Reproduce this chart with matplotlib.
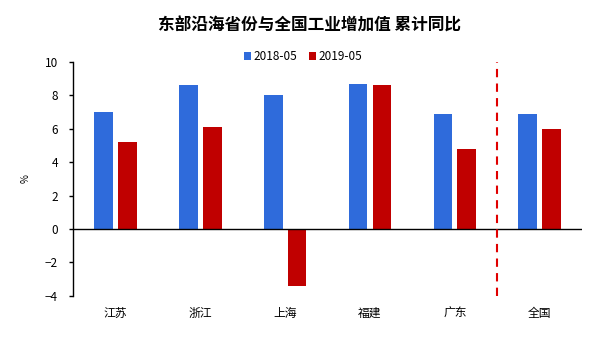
import matplotlib
matplotlib.use("Agg")
import matplotlib.pyplot as plt
import numpy as np

plt.rcParams['font.family'] = ['Noto Sans CJK SC', 'DejaVu Sans']

categories = ['江苏', '浙江', '上海', '福建', '广东', '全国']
series_2018 = [7.0, 8.6, 8.0, 8.7, 6.9, 6.9]
series_2019 = [5.2, 6.1, -3.4, 8.6, 4.8, 6.0]
yticks = [-4, -2, 0, 2, 4, 6, 8, 10]

fig = plt.figure(figsize=(6, 3.6), dpi=100)
ax = fig.add_axes([0.122, 0.178, 0.848, 0.65])

x = np.arange(len(categories))
w = 0.22
ax.bar(x - 0.14, series_2018, w, color='#2F6BDB', label='2018-05', zorder=2)
ax.bar(x + 0.14, series_2019, w, color='#C00000', label='2019-05', zorder=2)

ax.axhline(0, color='black', lw=1, zorder=3)
ax.axvline(4.5, color='#E00000', lw=1.5, ls=(0, (4, 3)), zorder=3)

ax.set_xlim(-0.5, 5.5)
ax.set_ylim(-4, 10)
ax.set_yticks(yticks)
ax.set_yticklabels([str(t).replace('-', '−') for t in yticks], fontsize=8.5)
ax.set_xticks(x)
ax.set_xticklabels(categories, fontsize=8.5)
ax.tick_params(axis='x', length=0, pad=8)
ax.tick_params(axis='y', direction='out', length=3, width=1, pad=8)
for s in ['top', 'right', 'bottom']:
    ax.spines[s].set_visible(False)
ax.spines['left'].set_linewidth(1)
ax.set_ylabel('%', fontsize=7, labelpad=10)

fig.legend(loc='center', bbox_to_anchor=(0.505, 0.842), ncol=2, frameon=False,
           fontsize=8.5, handlelength=0.6, handleheight=0.6, handletextpad=0.2,
           columnspacing=1.0)
fig.text(0.515, 0.93, '东部沿海省份与全国工业增加值 累计同比', ha='center', va='center',
         fontsize=12, fontweight='bold')

fig.savefig('out.png', dpi=100, facecolor='white')
